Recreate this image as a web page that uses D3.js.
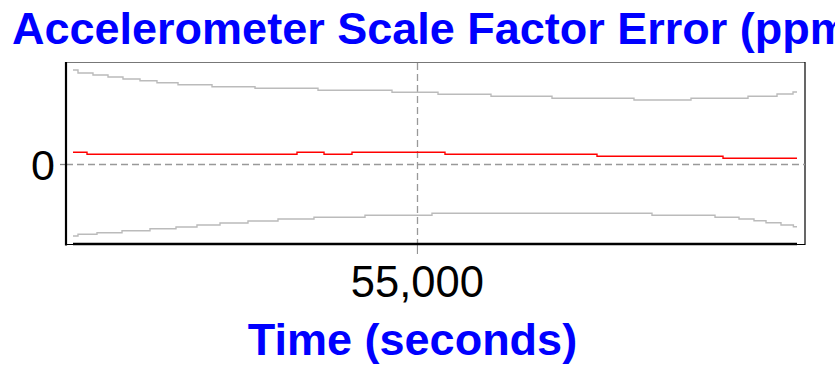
<!DOCTYPE html>
<html><head><meta charset="utf-8">
<script src="https://cdn.jsdelivr.net/npm/d3@7"></script>
<style>
html,body{margin:0;padding:0;background:#fff;overflow:hidden;}
svg{display:block;}
</style></head>
<body>
<svg id="chart" width="835" height="368"></svg>
<script>
// ---- data (step series: [start time (s), value (ppm)]) ----
const titleText = "Accelerometer Scale Factor Error (ppm)";
const xLabelText = "Time (seconds)";
const xTickValues = [55000];
const yTickValues = [0];
const timeDomain = [45500, 65500];

const upperBound = [
  [45500,94],[45638,91],[46052,89],[46467,87],[46881,85],[47351,83.3],[47820,81.3],
  [48401,79.3],[49340,77.3],[50528,75.7],[52268,73.7],[54312,71.7],[55583,69.7],
  [57047,67.7],[58732,65.7],[60997,64],[62572,65.7],[64147,67.7],[64948,70],
  [65390,72],[65500,72]
];
const lowerBound = [
  [45500,-72],[45638,-70.3],[46163,-68.7],[46854,-66.7],[47627,-64.7],[48345,-63],
  [48925,-61],[49561,-59],[50334,-57],[51163,-55],[52157,-53.3],[53566,-51.3],
  [55417,-49.3],[61494,-51.3],[63235,-53.3],[63898,-55],[64312,-56.7],[64644,-58.7],
  [65058,-61],[65400,-62.7],[65500,-62.7]
];
const estimate = [
  [45500,11.7],[45887,9.7],[51688,11.7],[52434,9.7],[53207,11.7],[55776,9.7],
  [59975,7.7],[63456,5.7],[65500,5.7]
];
const yDomain = [-80, 101];

// ---- layout ----
const svg = d3.select("#chart");
const frame = {left: 66, right: 805, top: 63, bottom: 244};
const x = d3.scaleLinear().domain(timeDomain).range([73, 797]);
const y = d3.scaleLinear().domain(yDomain).range([frame.bottom, frame.top]);
const FONT = "Liberation Sans, Arial, sans-serif";

// title
svg.append("text")
  .attr("x", 12).attr("y", 44)
  .attr("font-family", FONT)
  .attr("font-weight", "bold").attr("font-size", 45)
  .attr("fill", "#0000ff")
  .text(titleText);

// frame top/right
svg.append("line").attr("x1", frame.left).attr("x2", frame.right)
  .attr("y1", frame.top - 0.5).attr("y2", frame.top - 0.5)
  .attr("stroke", "#777").attr("stroke-width", 1.2);
svg.append("line").attr("x1", frame.right).attr("x2", frame.right)
  .attr("y1", frame.top - 1).attr("y2", frame.bottom + 1)
  .attr("stroke", "#000").attr("stroke-width", 1.2);
svg.append("line").attr("x1", frame.left).attr("x2", frame.right)
  .attr("y1", frame.bottom + 0.5).attr("y2", frame.bottom + 0.5)
  .attr("stroke", "#000").attr("stroke-width", 1);

// grid lines
const gridColor = "#999";
svg.append("g").selectAll("line").data(yTickValues).join("line")
  .attr("x1", frame.left).attr("x2", frame.right)
  .attr("y1", d => Math.round(y(d)) + 0.5).attr("y2", d => Math.round(y(d)) + 0.5)
  .attr("stroke", gridColor).attr("stroke-width", 1.3).attr("stroke-dasharray", "7,4");
svg.append("g").selectAll("line").data(xTickValues).join("line")
  .attr("x1", d => Math.round(x(d)) + 0.5).attr("x2", d => Math.round(x(d)) + 0.5)
  .attr("y1", frame.top).attr("y2", frame.bottom)
  .attr("stroke", gridColor).attr("stroke-width", 1.3).attr("stroke-dasharray", "7,4");

// axes
const yAxis = d3.axisLeft(y).tickValues(yTickValues).tickSize(6).tickPadding(5).tickFormat(d3.format("d"));
const gy = svg.append("g").attr("transform", `translate(${frame.left},0)`).call(yAxis);
gy.select(".domain").remove();
gy.selectAll(".tick line").attr("stroke", "#888").attr("stroke-width", 1.3);
gy.selectAll(".tick text").attr("font-family", FONT)
  .attr("font-size", 43).attr("fill", "#000").attr("dy", "0.36em");

const xAxis = d3.axisBottom(x).tickValues(xTickValues).tickSize(10).tickPadding(12).tickFormat(d3.format(","));
const gx = svg.append("g").attr("transform", `translate(0,${frame.bottom})`).call(xAxis);
gx.select(".domain").remove();
gx.selectAll(".tick line").attr("stroke", "#888").attr("stroke-width", 1);
gx.selectAll(".tick text").attr("font-family", FONT)
  .attr("font-size", 43.5).attr("fill", "#000");

// thick axis lines
svg.append("line").attr("x1", frame.left).attr("x2", frame.left)
  .attr("y1", frame.top - 1).attr("y2", frame.bottom + 1.5)
  .attr("stroke", "#000").attr("stroke-width", 2.2);
svg.append("line").attr("x1", x(timeDomain[0])).attr("x2", x(timeDomain[1]))
  .attr("y1", frame.bottom).attr("y2", frame.bottom)
  .attr("stroke", "#000").attr("stroke-width", 2.4);

// series
const line = d3.line().x(d => x(d[0])).y(d => y(d[1])).curve(d3.curveStepAfter);
svg.append("path").datum(upperBound).attr("d", line)
  .attr("fill", "none").attr("stroke", "#bbbbbb").attr("stroke-width", 1.4);
svg.append("path").datum(lowerBound).attr("d", line)
  .attr("fill", "none").attr("stroke", "#bbbbbb").attr("stroke-width", 1.4);
svg.append("path").datum(estimate).attr("d", line)
  .attr("fill", "none").attr("stroke", "#ff0000").attr("stroke-width", 1.4);

// x label
svg.append("text")
  .attr("x", 412.5).attr("y", 355).attr("text-anchor", "middle")
  .attr("font-family", FONT)
  .attr("font-weight", "bold").attr("font-size", 45)
  .attr("fill", "#0000ff")
  .text(xLabelText);
</script>
</body></html>
